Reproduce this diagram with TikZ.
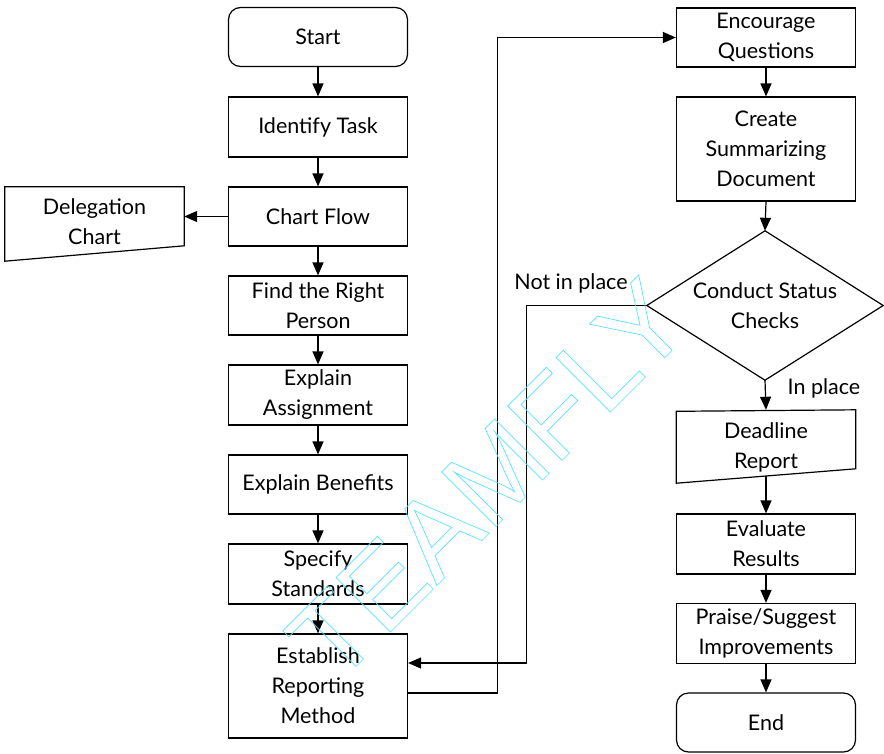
\documentclass[tikz,border=0pt]{standalone}
\usepackage{fontspec}
\setmainfont{Lato}
\newfontfamily\wmfont{Liberation Sans}
\usetikzlibrary{arrows.meta,calc}
\definecolor{wmcyan}{RGB}{90,225,255}
\newcommand{\strokeon}{\special{pdf:literal direct 1 Tr 0.7 w 0.35 0.88 1 RG}}
\newcommand{\strokeoff}{\special{pdf:literal direct 0 Tr}}
\tikzset{
  box/.style={draw, line width=1.2pt, minimum width=179pt, align=center, inner sep=2pt},
  plain/.style={minimum width=179pt, align=center, inner sep=2pt},
  term/.style={box, rounded corners=12pt},
  arr/.style={line width=1.2pt, -{Triangle[length=13pt,width=11pt]}},
  lbl/.style={inner sep=0pt},
  every node/.style={font=\fontsize{21.5}{30}\selectfont}
}
\begin{document}
\begin{tikzpicture}[x=1pt,y=-1pt]
\useasboundingbox (0,0) rectangle (884,753);
% left column
\node[term, minimum height=59pt] (start) at (318,37) {Start};
\node[box, minimum height=60pt] (ident) at (318,127) {Identify Task};
\node[box, minimum height=59pt] (chart) at (318,216.5) {Chart Flow};
\node[box, minimum height=59pt] (find) at (318,305.5) {Find the Right\\Person};
\node[box, minimum height=60pt] (expa) at (318,395) {Explain\\Assignment};
\node[box, minimum height=59pt] (expb) at (318,484.5) {Explain Benefits};
\node[box, minimum height=60pt] (spec) at (318,574) {Specify\\Standards};
\node[box, minimum height=104pt] (estab) at (318,686) {Establish\\Reporting\\Method};
% delegation chart
\node[plain, minimum height=74pt] (deleg) at (94.5,224) {};
\node[lbl, align=center] (delegt) at (94.5,222) {Delegation\\Chart};
\draw[line width=1.2pt] (deleg.north west) -- (deleg.north east) -- ($(deleg.north east)+(0,59)$) -- (deleg.south west) -- cycle;
% right column
\node[box, minimum height=59pt] (enc) at (766,37.5) {Encourage\\Questions};
\node[box, minimum height=104pt] (create) at (766,149) {Create\\Summarizing\\Document};
\node[minimum width=236pt, minimum height=149pt, inner sep=0pt] (dia) at (765,305.5) {};
\node[lbl, align=center] (diat) at (765,305.5) {Conduct Status\\Checks};
\draw[line width=1.2pt] (dia.north) -- (dia.east) -- (dia.south) -- (dia.west) -- cycle;
\node[plain, minimum height=73pt] (dead) at (766,446.5) {};
\node[lbl, align=center] (deadt) at (766,447) {Deadline\\Report};
\draw[line width=1.2pt] ($(dead.north west)+(0,1.5)$) -- (dead.north east) -- ($(dead.north east)+(0,59)$) -- (dead.south west) -- cycle;
\coordinate (deadb) at ($(dead.south)+(0,-7)$);
\node[box, minimum height=60pt] (eval) at (766,544) {Evaluate\\Results};
\node[box, minimum height=60pt] (praise) at (766,633.5) {Praise/Suggest\\Improvements};
\node[term, minimum height=59pt] (end) at (766,722.5) {End};
% connectors
\draw[arr] (start) -- (ident);
\draw[arr] (ident) -- (chart);
\draw[arr] (chart) -- (find);
\draw[arr] (find) -- (expa);
\draw[arr] (expa) -- (expb);
\draw[arr] (expb) -- (spec);
\draw[arr] (spec) -- (estab);
\draw[arr] (chart.west) -- (chart.west -| deleg.east);
\draw[arr] (enc) -- (create);
\draw[arr] (create.south) -- (dia.north);
\draw[arr] (dia.south) -- (dead.north);
\draw[arr] (deadb) -- (eval.north);
\draw[arr] (eval) -- (praise);
\draw[arr] (praise) -- (end);
\draw[arr] ($(estab.east)+(0,7)$) -- ++(89,0) |- (enc.west);
\draw[arr] (dia.west) -- ++(-120,0) |- ($(estab.east)+(0,-23)$);
% labels
\node[lbl] (notin) at (571,283) {Not in place};
\node[lbl] (inpl) at (824,388) {In place};
% watermark
\node[rotate=45, inner sep=0pt, text=wmcyan] (wm) at (488,480) {\wmfont\fontsize{112}{112}\selectfont\strokeon TEAMFLY\strokeoff};
\end{tikzpicture}
\end{document}
